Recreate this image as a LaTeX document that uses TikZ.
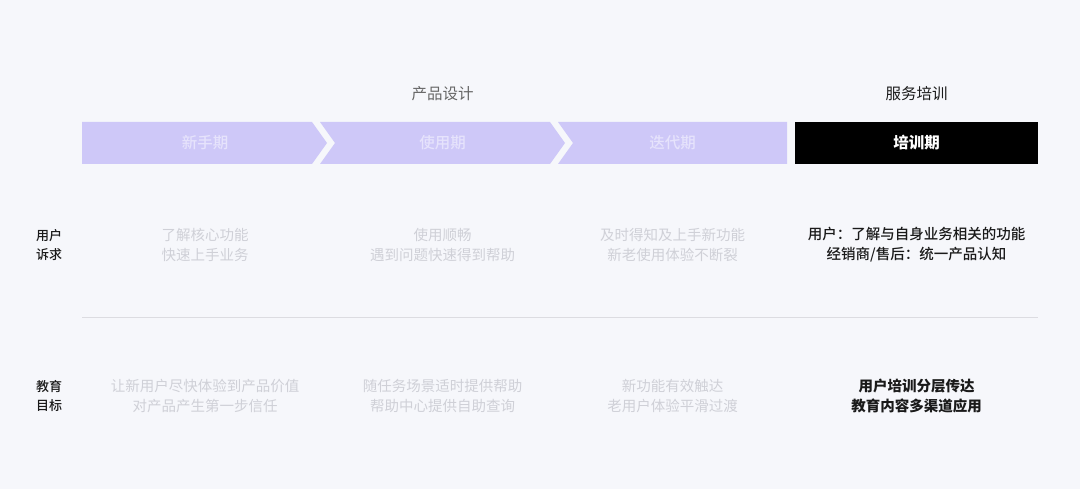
\documentclass[tikz,border=0pt]{standalone}
\usepackage{fontspec}
\setmainfont{Noto Sans CJK SC}
\newfontfamily\cjkmedium{Noto Sans CJK SC Medium}
\usetikzlibrary{positioning}
\definecolor{bg}{HTML}{F6F7FB}
\definecolor{lilac}{HTML}{CEC8F8}
\definecolor{lilactext}{HTML}{E6E3FC}
\definecolor{fade}{HTML}{CFD0D7}
\definecolor{ink}{HTML}{1A1A1A}
\definecolor{rulegray}{HTML}{DCDCE1}
\tikzstyle{phase} = [fill=lilac,draw=none]
\tikzstyle{phaselabel} = [inner sep=0pt,text=lilactext,font=\fontsize{15.5}{18}\selectfont\cjkmedium]
\tikzstyle{head} = [inner sep=0pt,font=\fontsize{15.5}{18}\selectfont]
\tikzstyle{cell} = [inner sep=0pt,align=center,text=fade,font=\fontsize{14.5}{20}\selectfont]
\tikzstyle{rowlabel} = [inner sep=0pt,align=center,text=ink,font=\fontsize{13}{19.5}\selectfont\cjkmedium]

\begin{document}
\begin{tikzpicture}[x=1pt,y=-1pt]
    \fill[bg] (0,0) rectangle (1080,489);
    \useasboundingbox (0,0) rectangle (1080,489);

    % phases
    \fill[phase] (82,122) -- (312,122) -- (327,143) -- (312,164) -- (82,164) -- cycle;
    \fill[phase] (320,122) -- (550,122) -- (565,143) -- (550,164) -- (320,164) -- (335,143) -- cycle;
    \fill[phase] (558,122) -- (787,122) -- (787,164) -- (558,164) -- (573,143) -- cycle;
    \fill[black] (795,122) rectangle (1038,164);

    \node[phaselabel] (p1) at (205,143) {新手期};
    \node[phaselabel] (p2) at (442.5,143) {使用期};
    \node[phaselabel] (p3) at (672.5,143) {迭代期};
    \node[phaselabel,text=white,font=\fontsize{15.5}{18}\selectfont\bfseries] (p4) at (916.5,143) {培训期};

    \node[head,text=black!60] (design) at (442.5,94) {产品设计};
    \node[head,text=ink] (service) at (916.5,94) {服务培训};

    % rows
    \node[rowlabel] (needs) at (49,245) {用户\\诉求};
    \node[rowlabel] (goals) at (49,396) {教育\\目标};

    \draw[rulegray,line width=0.8pt] (82,317) -- (1038,317);

    \node[cell] (n1) at (205,245) {了解核心功能\\快速上手业务};
    \node[cell] (n2) at (442.5,245) {使用顺畅\\遇到问题快速得到帮助};
    \node[cell] (n3) at (672.5,245) {及时得知及上手新功能\\新老使用体验不断裂};
    \node[cell,text=ink,font=\fontsize{14.5}{20}\selectfont\cjkmedium] (n4) at (916.5,245) {用户：了解与自身业务相关的功能\\经销商/售后：统一产品认知};

    \node[cell] (g1) at (205,396) {让新用户尽快体验到产品价值\\对产品产生第一步信任};
    \node[cell] (g2) at (442.5,396) {随任务场景适时提供帮助\\帮助中心提供自助查询};
    \node[cell] (g3) at (672.5,396) {新功能有效触达\\老用户体验平滑过渡};
    \node[cell,text=ink,font=\fontsize{14.5}{20}\selectfont\bfseries] (g4) at (916.5,396) {用户培训分层传达\\教育内容多渠道应用};
\end{tikzpicture}
\end{document}
